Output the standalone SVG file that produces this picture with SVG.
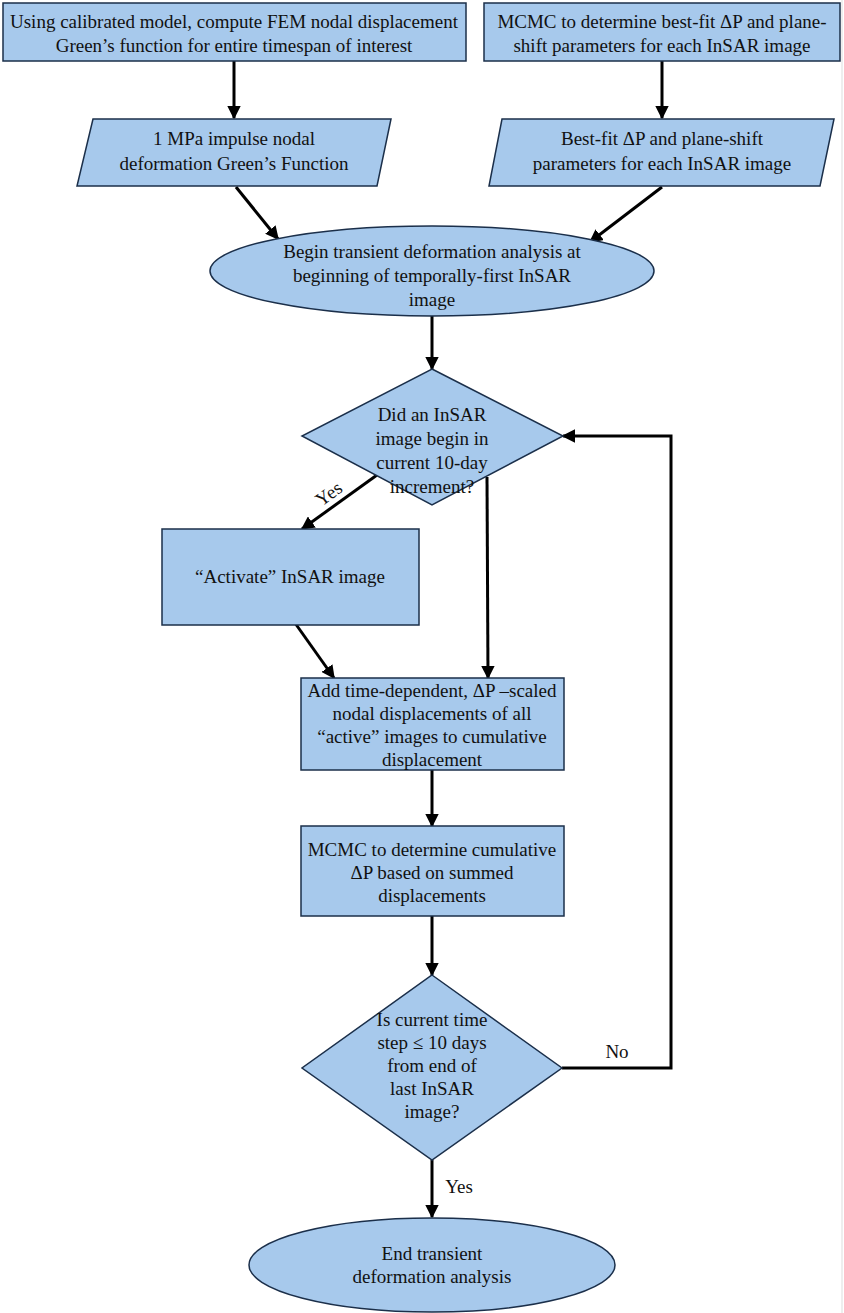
<svg xmlns="http://www.w3.org/2000/svg" width="844" height="1313" viewBox="0 0 844 1313">
<defs>
<style>
.n{fill:#a7c9ec;stroke:#1b2f4a;stroke-width:1.5}
.t{font-family:"Liberation Serif","Times New Roman",serif;font-size:19px;fill:#111;text-anchor:middle}
.c{fill:none;stroke:#000;stroke-width:3}
</style>
<marker id="ah" viewBox="0 0 10 10" refX="9" refY="5" markerWidth="4.5" markerHeight="4.5" orient="auto" markerUnits="strokeWidth">
<path d="M0,0 L10,5 L0,10 Z" fill="#000"/>
</marker>
</defs>
<rect width="844" height="1313" fill="#fff"/>
<line x1="842" y1="0" x2="842" y2="1313" stroke="#ddd" stroke-width="1"/>

<g id="connectors">
<line class="c" x1="234" y1="61" x2="234" y2="118" marker-end="url(#ah)"/>
<line class="c" x1="662" y1="61" x2="662" y2="118" marker-end="url(#ah)"/>
<line class="c" x1="236" y1="187" x2="278" y2="239" marker-end="url(#ah)"/>
<line class="c" x1="662" y1="187" x2="590" y2="242" marker-end="url(#ah)"/>
<line class="c" x1="432" y1="316" x2="432" y2="369" marker-end="url(#ah)"/>
<line class="c" x1="377" y1="475" x2="302" y2="529" marker-end="url(#ah)"/>
<line class="c" x1="487" y1="477" x2="488" y2="678" marker-end="url(#ah)"/>
<line class="c" x1="295" y1="623" x2="334" y2="678" marker-end="url(#ah)"/>
<line class="c" x1="432" y1="770" x2="432" y2="826" marker-end="url(#ah)"/>
<line class="c" x1="432" y1="916" x2="432" y2="975" marker-end="url(#ah)"/>
<line class="c" x1="432" y1="1160" x2="432" y2="1217" marker-end="url(#ah)"/>
<polyline class="c" points="562,1068 671,1068 671,436 563,436" marker-end="url(#ah)"/>
<text class="t" x="329" y="500" transform="rotate(-36 329 494)">Yes</text>
<text class="t" x="617" y="1058">No</text>
<text class="t" x="459" y="1193">Yes</text>
</g>

<g id="n1">
<rect class="n" x="3" y="3" width="463" height="58"/>
<text class="t" x="234" y="28">Using calibrated model, compute FEM nodal displacement</text>
<text class="t" x="234" y="52">Green’s function for entire timespan of interest</text>
</g>
<g id="n2">
<rect class="n" x="484" y="3" width="356" height="58"/>
<text class="t" x="662" y="28">MCMC to determine best-fit ΔP and plane-</text>
<text class="t" x="662" y="52">shift parameters for each InSAR image</text>
</g>
<g id="n3">
<polygon class="n" points="93,119 391,119 377,186 77,186"/>
<text class="t" x="234" y="145">1 MPa impulse nodal</text>
<text class="t" x="234" y="170">deformation Green’s Function</text>
</g>
<g id="n4">
<polygon class="n" points="502,119 834,119 820,186 489,186"/>
<text class="t" x="662" y="145">Best-fit ΔP and plane-shift</text>
<text class="t" x="662" y="170">parameters for each InSAR image</text>
</g>
<g id="n5">
<ellipse class="n" cx="432" cy="271" rx="222" ry="45"/>
<text class="t" x="432" y="258">Begin transient deformation analysis at</text>
<text class="t" x="432" y="282">beginning of temporally-first InSAR</text>
<text class="t" x="432" y="306">image</text>
</g>
<g id="n6">
<polygon class="n" points="432,369 563,436 432,505 302,436"/>
<text class="t" x="432" y="421">Did an InSAR</text>
<text class="t" x="432" y="445">image begin in</text>
<text class="t" x="432" y="469">current 10-day</text>
<text class="t" x="432" y="493">increment?</text>
</g>
<g id="n7">
<rect class="n" x="162" y="529" width="257" height="96"/>
<text class="t" x="290" y="583">“Activate” InSAR image</text>
</g>
<g id="n8">
<rect class="n" x="301" y="678" width="263" height="92"/>
<text class="t" x="432" y="697">Add time-dependent, ΔP –scaled</text>
<text class="t" x="432" y="720">nodal displacements of all</text>
<text class="t" x="432" y="743">“active” images to cumulative</text>
<text class="t" x="432" y="766">displacement</text>
</g>
<g id="n9">
<rect class="n" x="301" y="826" width="263" height="90"/>
<text class="t" x="432" y="856">MCMC to determine cumulative</text>
<text class="t" x="432" y="879">ΔP based on summed</text>
<text class="t" x="432" y="902">displacements</text>
</g>
<g id="n10">
<polygon class="n" points="432,975 562,1068 432,1160 302,1068"/>
<text class="t" x="432" y="1026">Is current time</text>
<text class="t" x="432" y="1049">step ≤ 10 days</text>
<text class="t" x="432" y="1072">from end of</text>
<text class="t" x="432" y="1095">last InSAR</text>
<text class="t" x="432" y="1118">image?</text>
</g>
<g id="n11">
<ellipse class="n" cx="432" cy="1265" rx="183" ry="47"/>
<text class="t" x="432" y="1260">End transient</text>
<text class="t" x="432" y="1283">deformation analysis</text>
</g>
</svg>
